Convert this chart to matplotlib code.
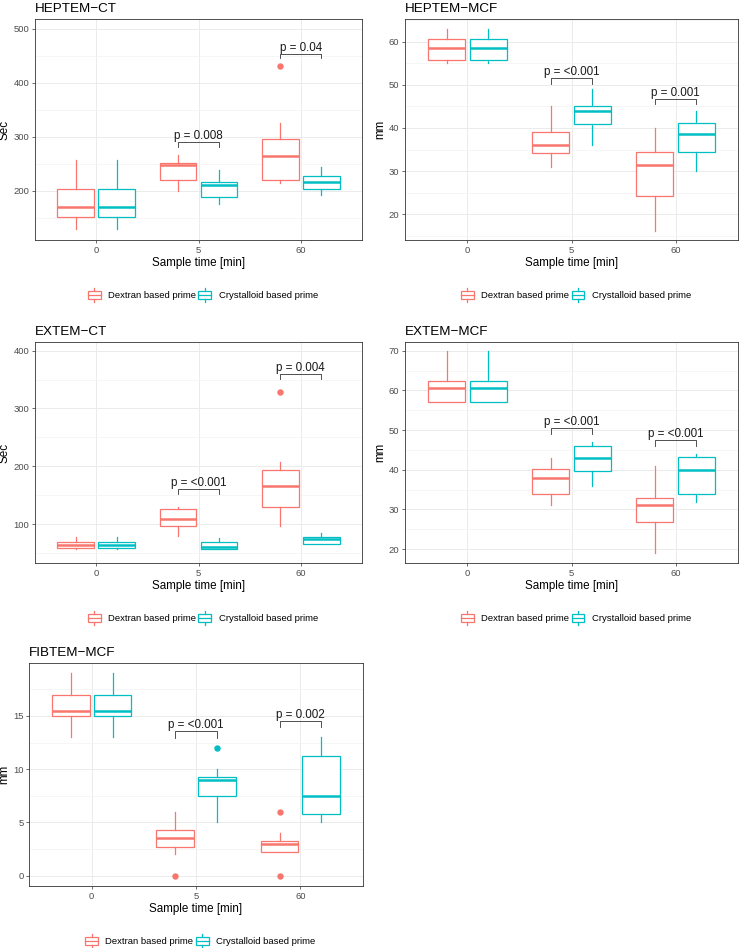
import numpy as np
import matplotlib
matplotlib.use('Agg')
import matplotlib.pyplot as plt
from matplotlib.legend_handler import HandlerBase
from matplotlib.patches import Rectangle
from matplotlib.lines import Line2D

plt.rcParams['font.family'] = ['Liberation Sans', 'DejaVu Sans']

times = ['0', '5', '60']
groups = ['Dextran based prime', 'Crystalloid based prime']
colors = ['#F8766D', '#00BFC4']

# box stats per time point: [whislo, q1, med, q3, whishi]
heptem_ct_dex = [[129, 152, 170, 203, 257], [200, 220, 247, 251, 267], [214, 220, 265, 295, 326]]
heptem_ct_cry = [[129, 152, 170, 203, 257], [175, 189, 210, 217, 238], [192, 203, 217, 227, 244]]
heptem_ct_fl_dex = [[], [], [431]]
heptem_ct_fl_cry = [[], [], []]

heptem_mcf_dex = [[55, 55.7, 58.5, 60.7, 63], [31, 34.2, 36, 39, 45], [16, 24.2, 31.5, 34.5, 40]]
heptem_mcf_cry = [[55, 55.7, 58.5, 60.7, 63], [36, 41, 44, 45.2, 49], [30, 34.5, 38.5, 41.2, 44]]
heptem_mcf_fl_dex = [[], [], []]
heptem_mcf_fl_cry = [[], [], []]

extem_ct_dex = [[56, 58.5, 64, 69, 77], [79, 96, 109, 126, 129], [97, 129, 165, 193, 207]]
extem_ct_cry = [[56, 58.5, 64, 69, 77], [57, 57, 60, 69, 75], [65, 66, 74, 77, 84]]
extem_ct_fl_dex = [[], [], [329]]
extem_ct_fl_cry = [[], [], []]

extem_mcf_dex = [[57, 57.1, 60.5, 62.3, 70], [31, 33.9, 38, 40.3, 43], [19, 26.8, 31, 32.8, 41]]
extem_mcf_cry = [[57, 57.1, 60.5, 62.3, 70], [36, 39.7, 43, 46, 47], [32, 33.9, 40, 43.3, 44]]
extem_mcf_fl_dex = [[], [], []]
extem_mcf_fl_cry = [[], [], []]

fibtem_mcf_dex = [[13, 15, 15.5, 17, 19], [2, 2.7, 3.5, 4.26, 6], [2.25, 2.25, 3, 3.26, 4]]
fibtem_mcf_cry = [[13, 15, 15.5, 17, 19], [5, 7.5, 9, 9.27, 10], [5, 5.75, 7.5, 11.25, 13]]
fibtem_mcf_fl_dex = [[], [0], [0, 6]]
fibtem_mcf_fl_cry = [[], [12], []]

# significance brackets: time index, label, bracket y, tip y
heptem_ct_p = [(1, 'p = 0.008', 291, 282), (2, 'p = 0.04', 454, 445)]
heptem_mcf_p = [(1, 'p = <0.001', 51.6, 50.2), (2, 'p = 0.001', 46.7, 45.5)]
extem_ct_p = [(1, 'p = <0.001', 160, 152), (2, 'p = 0.004', 360, 351)]
extem_mcf_p = [(1, 'p = <0.001', 50.5, 49), (2, 'p = <0.001', 47.5, 46)]
fibtem_mcf_p = [(1, 'p = <0.001', 13.56, 12.97), (2, 'p = 0.002', 14.53, 13.97)]

W, H = 739.0, 948.0
panels = [
    ('HEPTEM\u2212CT', 'Sec', heptem_ct_dex, heptem_ct_cry, heptem_ct_fl_dex, heptem_ct_fl_cry, heptem_ct_p,
     [35, 19, 362, 240], (109, 518), [200, 300, 400, 500]),
    ('HEPTEM\u2212MCF', 'mm', heptem_mcf_dex, heptem_mcf_cry, heptem_mcf_fl_dex, heptem_mcf_fl_cry, heptem_mcf_p,
     [405, 19, 738, 240], (14, 65.3), [20, 30, 40, 50, 60]),
    ('EXTEM\u2212CT', 'Sec', extem_ct_dex, extem_ct_cry, extem_ct_fl_dex, extem_ct_fl_cry, extem_ct_p,
     [35, 342, 362, 563], (32.5, 415), [100, 200, 300, 400]),
    ('EXTEM\u2212MCF', 'mm', extem_mcf_dex, extem_mcf_cry, extem_mcf_fl_dex, extem_mcf_fl_cry, extem_mcf_p,
     [405, 342, 738, 563], (16.5, 72.2), [20, 30, 40, 50, 60, 70]),
    ('FIBTEM\u2212MCF', 'mm', fibtem_mcf_dex, fibtem_mcf_cry, fibtem_mcf_fl_dex, fibtem_mcf_fl_cry, fibtem_mcf_p,
     [29, 663, 363, 886], (-0.98, 19.98), [0, 5, 10, 15]),
]


class BoxKey(HandlerBase):
    # little boxplot glyph like ggplot's legend key
    def create_artists(self, legend, orig_handle, xdescent, ydescent, width, height, fontsize, trans):
        c = orig_handle.get_edgecolor()
        x0, y0 = -xdescent, -ydescent
        box = Rectangle((x0 + 0.05 * width, y0 + 0.0 * height), 0.9 * width, 1.0 * height,
                        facecolor='white', edgecolor=c, lw=0.9, transform=trans)
        med = Line2D([x0 + 0.05 * width, x0 + 0.95 * width], [y0 + 0.5 * height] * 2, color=c, lw=0.9, transform=trans)
        wt = Line2D([x0 + 0.5 * width] * 2, [y0 + 1.0 * height, y0 + 1.3 * height], color=c, lw=0.9, transform=trans)
        wb = Line2D([x0 + 0.5 * width] * 2, [y0 - 0.3 * height, y0], color=c, lw=0.9, transform=trans)
        return [box, med, wt, wb]


def stats(rows, fl):
    out = []
    for r, f in zip(rows, fl):
        out.append(dict(whislo=r[0], q1=r[1], med=r[2], q3=r[3], whishi=r[4], fliers=f))
    return out


fig = plt.figure(figsize=(W / 100, H / 100), dpi=100)

for title, ylab, dex, cry, fdex, fcry, pv, box, ylim, yt in panels:
    l, t, r, b = box
    ax = fig.add_axes([l / W, 1 - b / H, (r - l) / W, (b - t) / H])
    x = np.arange(len(times))
    for k, (rows, fl) in enumerate([(dex, fdex), (cry, fcry)]):
        c = colors[k]
        off = -0.2 if k == 0 else 0.2
        ax.bxp(stats(rows, fl), positions=x + off, widths=0.36, showcaps=False, patch_artist=True,
               boxprops=dict(facecolor='white', edgecolor=c, lw=0.9),
               whiskerprops=dict(color=c, lw=0.9),
               medianprops=dict(color=c, lw=1.8),
               flierprops=dict(marker='o', markerfacecolor=c, markeredgecolor=c, markersize=3.6),
               manage_ticks=False, zorder=3)
    for i, lab, yb, ytip in pv:
        ax.plot([i - 0.2, i - 0.2, i + 0.2, i + 0.2], [ytip, yb, yb, ytip], color='#333333', lw=0.6, zorder=4)
        ax.text(i, yb, lab, ha='center', va='bottom', fontsize=8.4, color='#1a1a1a', zorder=5)

    ax.set_xlim(-0.6, 2.6)
    ax.set_ylim(*ylim)
    ax.set_xticks(x)
    ax.set_xticklabels(times)
    ax.set_yticks(yt)
    step = yt[1] - yt[0]
    minor = np.arange(yt[0] - step / 2, ylim[1], step)
    ax.set_yticks([m for m in minor if ylim[0] < m < ylim[1]], minor=True)
    ax.grid(True, which='major', color='#EBEBEB', lw=0.7, zorder=0)
    ax.grid(True, which='minor', axis='y', color='#F2F2F2', lw=0.45, zorder=0)
    ax.set_axisbelow(True)
    ax.tick_params(which='major', labelsize=6.8, labelcolor='#4D4D4D', color='#333333', length=2.2, width=0.5, pad=1.8)
    ax.tick_params(which='minor', length=0)
    for s in ax.spines.values():
        s.set_color('#333333')
        s.set_linewidth(0.6)
    ax.set_xlabel('Sample time [min]', fontsize=8.4, labelpad=1.5)
    ax.set_ylabel(ylab, fontsize=8.4, labelpad=2)
    ax.set_title(title, loc='left', fontsize=9.7, pad=5)

    handles = [Rectangle((0, 0), 1, 1, edgecolor=c, facecolor='white') for c in colors]
    ax.legend(handles, groups, handler_map={Rectangle: BoxKey()}, loc='center',
              bbox_to_anchor=(0.512, -0.25 * 221 / (b - t)), ncol=2, frameon=False, fontsize=6.8,
              handlelength=1.5, handleheight=1.0, handletextpad=0.7, columnspacing=0.2, borderpad=0)

fig.savefig('out.png', dpi=100)
